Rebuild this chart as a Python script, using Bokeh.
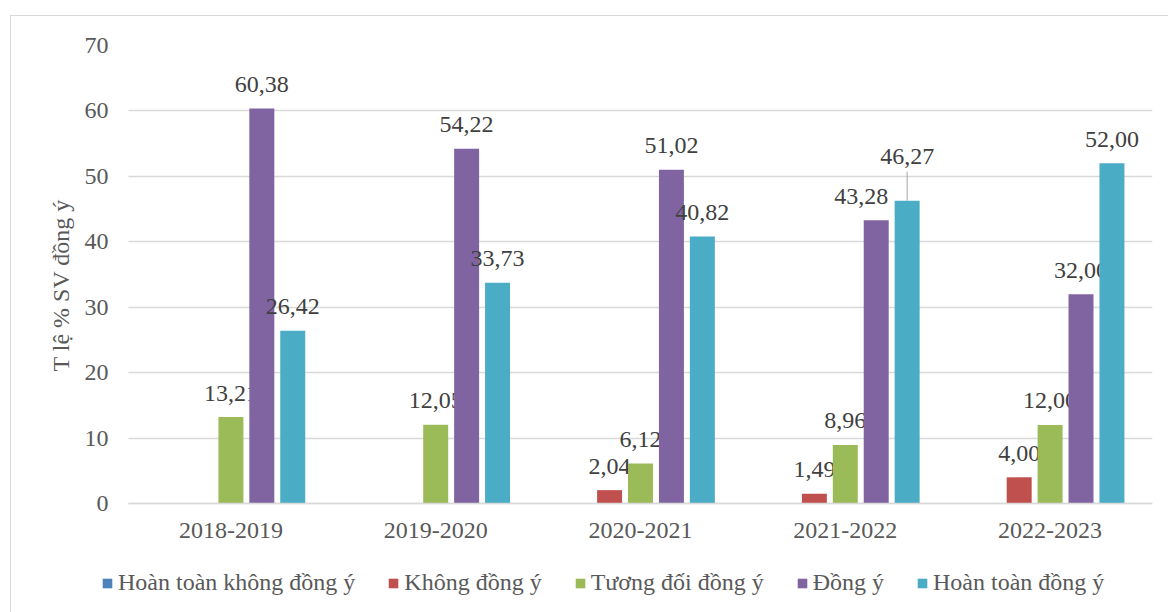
from bokeh.plotting import figure
from bokeh.models import (ColumnDataSource, FixedTicker, Legend, LegendItem,
                          Range1d, Title)
from bokeh.transform import dodge
from bokeh.core.properties import value
from bokeh.embed import file_html
from bokeh.resources import INLINE

# ---------------- data ----------------
years = ["2018-2019", "2019-2020", "2020-2021", "2021-2022", "2022-2023"]
series_names = ["Hoàn toàn không đồng ý", "Không đồng ý", "Tương đối đồng ý",
                "Đồng ý", "Hoàn toàn đồng ý"]
hoan_toan_khong_dong_y = [0, 0, 0, 0, 0]
khong_dong_y = [0, 0, 2.04, 1.49, 4.00]
tuong_doi_dong_y = [13.21, 12.05, 6.12, 8.96, 12.00]
dong_y = [60.38, 54.22, 51.02, 43.28, 32.00]
hoan_toan_dong_y = [26.42, 33.73, 40.82, 46.27, 52.00]
y_ticks = [0, 10, 20, 30, 40, 50, 60, 70]
y_label = "T lệ % SV đồng ý"

series_values = [hoan_toan_khong_dong_y, khong_dong_y, tuong_doi_dong_y,
                 dong_y, hoan_toan_dong_y]
colors = ["#4F81BD", "#C0504D", "#9BBB59", "#8064A2", "#4BACC6"]

FONT = "Times New Roman, Liberation Serif, serif"

# ---------------- geometry ----------------
W, H = 1158, 597
TOP = 29                      # frame top (px)
PLOT_H = 458                  # px between 0 and 70
px_per_unit = PLOT_H / 70.0
frame_h = H - TOP             # frame reaches the bottom so the legend is not clipped
y_min = 70 - frame_h / px_per_unit
CAT_PX = 204.8                # px per category
EXT_PX = 30                   # frame extends left of the plot area (room for legend)
x_index = list(range(len(years)))

p = figure(x_range=Range1d(-0.5 - EXT_PX / CAT_PX, len(years) - 0.5),
           y_range=Range1d(y_min, 70),
           width=W, height=H, x_axis_location="above",
           output_backend="svg", toolbar_location=None,
           min_border_left=117 - EXT_PX, min_border_right=17,
           min_border_top=TOP, min_border_bottom=0,
           margin=(15, 0, 0, 10))
p.styles = {"border-left": "1px solid #d9d9d9", "border-top": "1px solid #d9d9d9"}
p.outline_line_color = None
p.background_fill_color = "white"
p.border_fill_color = "white"

step = 0.151
bar_w = 0.122
n = len(series_names)

# label nudges (screen px) for labels Excel moved to avoid overlap
nudge = {(3, 3): (-15, 0), (4, 3): (0, 20)}

legend_items = []
for si, (name, vals, col) in enumerate(zip(series_names, series_values, colors)):
    off = (si - (n - 1) / 2) * step
    src = ColumnDataSource(dict(xi=x_index, top=vals))
    r = p.vbar(x=dodge("xi", off), top="top", bottom=0, width=bar_w,
               source=src, fill_color=col, line_color=None)
    legend_items.append(LegendItem(label=name, renderers=[r]))

    ly, lt, lx, ldx, ldy = [], [], [], [], []
    for yi, v in enumerate(vals):
        if v > 0:
            dx, dy = nudge.get((si, yi), (0, 0))
            lx.append(x_index[yi]); ly.append(v)
            lt.append(f"{v:.2f}".replace(".", ","))
            ldx.append(dx); ldy.append(-24 - dy)
    if lt:
        lsrc = ColumnDataSource(dict(xi=lx, y=ly, text=lt, dx=ldx, dy=ldy))
        p.text(x=dodge("xi", off), y="y", text="text",
               x_offset="dx", y_offset="dy", source=lsrc,
               text_font=value(FONT), text_font_size="24px", text_color="#404040",
               text_align="center", text_baseline="middle")

# leader line for the moved 46,27 label
lead_src = ColumnDataSource(dict(xi=[x_index[3]], y0=[hoan_toan_dong_y[3]],
                                 y1=[hoan_toan_dong_y[3] + 29 / px_per_unit]))
off4 = (4 - (n - 1) / 2) * step
p.segment(x0=dodge("xi", off4), x1=dodge("xi", off4),
          y0="y0", y1="y1", source=lead_src, line_color="#a6a6a6", line_width=1)

# ---------------- axes ----------------
p.yaxis.ticker = FixedTicker(ticks=y_ticks)
p.yaxis.axis_line_color = None
p.yaxis.major_tick_line_color = None
p.yaxis.minor_tick_line_color = None
p.yaxis.major_tick_out = 0
p.yaxis.major_tick_in = 0
p.yaxis.major_label_standoff = 20 - EXT_PX
p.yaxis.major_label_text_font = FONT
p.yaxis.major_label_text_font_size = "24px"
p.yaxis.major_label_text_color = "#595959"

p.add_layout(Title(text=y_label, align="left", offset=242, standoff=16,
                   text_font=FONT, text_font_size="24px", text_font_style="normal",
                   text_color="#595959"), "left")

# category axis pinned at y = 0, labels pushed below the line
p.xaxis.ticker = FixedTicker(ticks=x_index)
p.xaxis.major_label_overrides = {i: y for i, y in zip(x_index, years)}
p.xaxis.fixed_location = 0
p.xaxis.bounds = (-0.5, len(years) - 0.5)
p.xaxis.axis_line_color = "#d9d9d9"
p.xaxis.axis_line_width = 1.5
p.xaxis.major_tick_line_color = None
p.xaxis.minor_tick_line_color = None
p.xaxis.major_tick_out = 0
p.xaxis.major_tick_in = 0
p.xaxis.major_label_standoff = -34
p.xaxis.major_label_text_font = FONT
p.xaxis.major_label_text_font_size = "24px"
p.xaxis.major_label_text_color = "#595959"

p.xgrid.grid_line_color = None
p.ygrid.grid_line_color = "#d9d9d9"
p.ygrid.grid_line_width = 1.5
p.ygrid.cross_bounds = (-0.5, len(years) - 0.5)

# ---------------- legend ----------------
legend = Legend(items=legend_items, orientation="horizontal",
                location=(3, 17),
                label_text_font=FONT, label_text_font_size="24px",
                label_text_color="#595959",
                glyph_width=12, glyph_height=12, label_standoff=5, spacing=32,
                label_height=24, padding=0, margin=0,
                border_line_color=None, background_fill_alpha=0)
p.add_layout(legend, "center")

open("out.html", "w").write(file_html(p, INLINE))
